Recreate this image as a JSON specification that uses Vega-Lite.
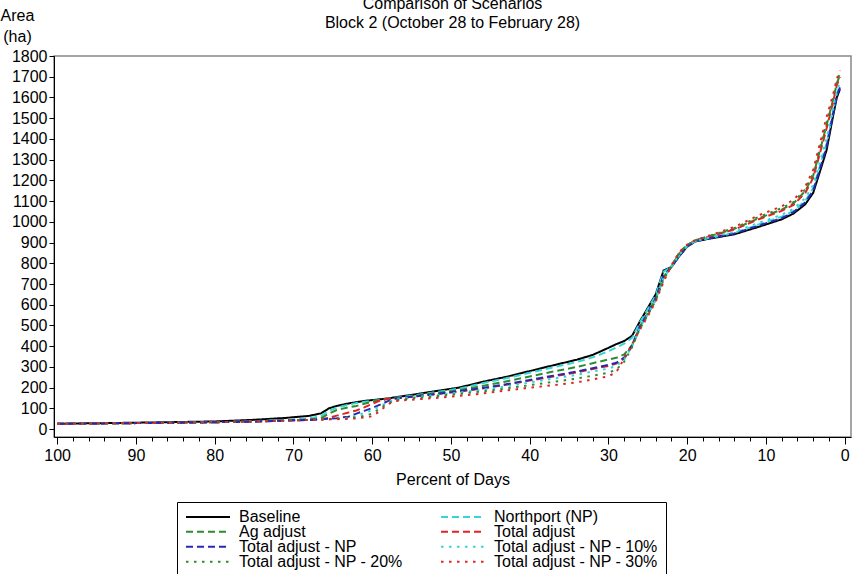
{
  "$schema": "https://vega.github.io/schema/vega-lite/v6.json",
  "width": 797,
  "height": 381,
  "autosize": "none",
  "padding": {"left": 54, "top": 56, "right": 3, "bottom": 137},
  "config": {
    "font": "Liberation Sans",
    "view": {"stroke": "#888888", "strokeWidth": 1.5},
    "axis": {"labelFontSize": 16, "titleFontSize": 16, "labelColor": "#000", "titleColor": "#000", "domainColor": "#000", "tickColor": "#000", "grid": false, "titleFontWeight": "normal"}
  },
  "title": {
    "text": ["Comparison of Scenarios", "Block 2 (October 28 to February 28)"],
    "fontSize": 16, "fontWeight": "normal", "lineHeight": 19, "anchor": "middle", "offset": 0, "dy": 24, "color": "#000"
  },
  "data": {"values": [
    {"s":"Baseline","x":100,"y":26},{"s":"Baseline","x":90,"y":31},{"s":"Baseline","x":80,"y":37},{"s":"Baseline","x":75,"y":45},{"s":"Baseline","x":71,"y":54},{"s":"Baseline","x":68,"y":64},{"s":"Baseline","x":66.5,"y":76},{"s":"Baseline","x":65.5,"y":100},{"s":"Baseline","x":64.5,"y":112},{"s":"Baseline","x":63,"y":124},{"s":"Baseline","x":62,"y":130},{"s":"Baseline","x":61,"y":136},{"s":"Baseline","x":60,"y":140},{"s":"Baseline","x":59,"y":144},{"s":"Baseline","x":58,"y":148},{"s":"Baseline","x":57,"y":154},{"s":"Baseline","x":55,"y":165},{"s":"Baseline","x":52,"y":183},{"s":"Baseline","x":49,"y":200},{"s":"Baseline","x":46,"y":228},{"s":"Baseline","x":43,"y":252},{"s":"Baseline","x":40,"y":280},{"s":"Baseline","x":37,"y":308},{"s":"Baseline","x":34,"y":335},{"s":"Baseline","x":32,"y":358},{"s":"Baseline","x":30,"y":392},{"s":"Baseline","x":29,"y":410},{"s":"Baseline","x":28,"y":425},{"s":"Baseline","x":27,"y":450},{"s":"Baseline","x":26,"y":520},{"s":"Baseline","x":25,"y":585},{"s":"Baseline","x":24,"y":650},{"s":"Baseline","x":23,"y":765},{"s":"Baseline","x":22,"y":782},{"s":"Baseline","x":21,"y":835},{"s":"Baseline","x":20,"y":880},{"s":"Baseline","x":19,"y":905},{"s":"Baseline","x":17,"y":920},{"s":"Baseline","x":14,"y":940},{"s":"Baseline","x":11,"y":975},{"s":"Baseline","x":8,"y":1012},{"s":"Baseline","x":6.5,"y":1040},{"s":"Baseline","x":5,"y":1085},{"s":"Baseline","x":4,"y":1140},{"s":"Baseline","x":3,"y":1260},{"s":"Baseline","x":2.3,"y":1346},{"s":"Baseline","x":1.5,"y":1506},{"s":"Baseline","x":1,"y":1600},{"s":"Baseline","x":0.6,"y":1640},
    {"s":"Northport (NP)","x":100,"y":26},{"s":"Northport (NP)","x":90,"y":29},{"s":"Northport (NP)","x":80,"y":33},{"s":"Northport (NP)","x":75,"y":38},{"s":"Northport (NP)","x":71,"y":45},{"s":"Northport (NP)","x":68,"y":52},{"s":"Northport (NP)","x":66.5,"y":62},{"s":"Northport (NP)","x":65.5,"y":88},{"s":"Northport (NP)","x":64.5,"y":104},{"s":"Northport (NP)","x":63,"y":118},{"s":"Northport (NP)","x":62,"y":126},{"s":"Northport (NP)","x":61,"y":132},{"s":"Northport (NP)","x":60,"y":137},{"s":"Northport (NP)","x":59,"y":141},{"s":"Northport (NP)","x":58,"y":146},{"s":"Northport (NP)","x":57,"y":151},{"s":"Northport (NP)","x":55,"y":161},{"s":"Northport (NP)","x":52,"y":178},{"s":"Northport (NP)","x":49,"y":195},{"s":"Northport (NP)","x":46,"y":221},{"s":"Northport (NP)","x":43,"y":245},{"s":"Northport (NP)","x":40,"y":272},{"s":"Northport (NP)","x":37,"y":298},{"s":"Northport (NP)","x":34,"y":324},{"s":"Northport (NP)","x":32,"y":346},{"s":"Northport (NP)","x":30,"y":376},{"s":"Northport (NP)","x":29,"y":394},{"s":"Northport (NP)","x":28,"y":412},{"s":"Northport (NP)","x":27,"y":440},{"s":"Northport (NP)","x":26,"y":515},{"s":"Northport (NP)","x":25,"y":580},{"s":"Northport (NP)","x":24,"y":645},{"s":"Northport (NP)","x":23,"y":760},{"s":"Northport (NP)","x":22,"y":782},{"s":"Northport (NP)","x":21,"y":838},{"s":"Northport (NP)","x":20,"y":882},{"s":"Northport (NP)","x":19,"y":906},{"s":"Northport (NP)","x":17,"y":923},{"s":"Northport (NP)","x":14,"y":947},{"s":"Northport (NP)","x":11,"y":986},{"s":"Northport (NP)","x":8,"y":1025},{"s":"Northport (NP)","x":6.5,"y":1053},{"s":"Northport (NP)","x":5,"y":1102},{"s":"Northport (NP)","x":4,"y":1162},{"s":"Northport (NP)","x":3,"y":1288},{"s":"Northport (NP)","x":2.3,"y":1378},{"s":"Northport (NP)","x":1.5,"y":1527},{"s":"Northport (NP)","x":1,"y":1618},{"s":"Northport (NP)","x":0.6,"y":1658},
    {"s":"Ag adjust","x":100,"y":26},{"s":"Ag adjust","x":90,"y":29},{"s":"Ag adjust","x":80,"y":33},{"s":"Ag adjust","x":75,"y":37},{"s":"Ag adjust","x":71,"y":42},{"s":"Ag adjust","x":68,"y":46},{"s":"Ag adjust","x":66.5,"y":52},{"s":"Ag adjust","x":65.5,"y":75},{"s":"Ag adjust","x":64.5,"y":92},{"s":"Ag adjust","x":63,"y":105},{"s":"Ag adjust","x":62,"y":112},{"s":"Ag adjust","x":61,"y":122},{"s":"Ag adjust","x":60,"y":132},{"s":"Ag adjust","x":59,"y":140},{"s":"Ag adjust","x":58,"y":146},{"s":"Ag adjust","x":57,"y":150},{"s":"Ag adjust","x":55,"y":158},{"s":"Ag adjust","x":52,"y":173},{"s":"Ag adjust","x":49,"y":188},{"s":"Ag adjust","x":46,"y":208},{"s":"Ag adjust","x":43,"y":230},{"s":"Ag adjust","x":40,"y":254},{"s":"Ag adjust","x":37,"y":278},{"s":"Ag adjust","x":34,"y":300},{"s":"Ag adjust","x":32,"y":318},{"s":"Ag adjust","x":30,"y":336},{"s":"Ag adjust","x":29,"y":344},{"s":"Ag adjust","x":28,"y":360},{"s":"Ag adjust","x":27,"y":405},{"s":"Ag adjust","x":26,"y":495},{"s":"Ag adjust","x":25,"y":560},{"s":"Ag adjust","x":24,"y":630},{"s":"Ag adjust","x":23,"y":735},{"s":"Ag adjust","x":22,"y":785},{"s":"Ag adjust","x":21,"y":850},{"s":"Ag adjust","x":20,"y":888},{"s":"Ag adjust","x":19,"y":910},{"s":"Ag adjust","x":17,"y":932},{"s":"Ag adjust","x":14,"y":966},{"s":"Ag adjust","x":11,"y":1016},{"s":"Ag adjust","x":8,"y":1059},{"s":"Ag adjust","x":6.5,"y":1089},{"s":"Ag adjust","x":5,"y":1149},{"s":"Ag adjust","x":4,"y":1223},{"s":"Ag adjust","x":3,"y":1365},{"s":"Ag adjust","x":2.3,"y":1466},{"s":"Ag adjust","x":1.5,"y":1584},{"s":"Ag adjust","x":1,"y":1668},{"s":"Ag adjust","x":0.6,"y":1708},
    {"s":"Total adjust","x":100,"y":26},{"s":"Total adjust","x":90,"y":29},{"s":"Total adjust","x":80,"y":33},{"s":"Total adjust","x":75,"y":37},{"s":"Total adjust","x":71,"y":41},{"s":"Total adjust","x":68,"y":45},{"s":"Total adjust","x":66.5,"y":48},{"s":"Total adjust","x":65.5,"y":55},{"s":"Total adjust","x":64.5,"y":65},{"s":"Total adjust","x":63,"y":80},{"s":"Total adjust","x":62,"y":90},{"s":"Total adjust","x":61,"y":105},{"s":"Total adjust","x":60,"y":122},{"s":"Total adjust","x":59,"y":138},{"s":"Total adjust","x":58,"y":146},{"s":"Total adjust","x":57,"y":148},{"s":"Total adjust","x":55,"y":156},{"s":"Total adjust","x":52,"y":168},{"s":"Total adjust","x":49,"y":181},{"s":"Total adjust","x":46,"y":196},{"s":"Total adjust","x":43,"y":214},{"s":"Total adjust","x":40,"y":234},{"s":"Total adjust","x":37,"y":254},{"s":"Total adjust","x":34,"y":274},{"s":"Total adjust","x":32,"y":290},{"s":"Total adjust","x":30,"y":305},{"s":"Total adjust","x":29,"y":316},{"s":"Total adjust","x":28,"y":340},{"s":"Total adjust","x":27,"y":400},{"s":"Total adjust","x":26,"y":490},{"s":"Total adjust","x":25,"y":555},{"s":"Total adjust","x":24,"y":625},{"s":"Total adjust","x":23,"y":730},{"s":"Total adjust","x":22,"y":785},{"s":"Total adjust","x":21,"y":848},{"s":"Total adjust","x":20,"y":886},{"s":"Total adjust","x":19,"y":910},{"s":"Total adjust","x":17,"y":930},{"s":"Total adjust","x":14,"y":963},{"s":"Total adjust","x":11,"y":1011},{"s":"Total adjust","x":8,"y":1053},{"s":"Total adjust","x":6.5,"y":1082},{"s":"Total adjust","x":5,"y":1140},{"s":"Total adjust","x":4,"y":1212},{"s":"Total adjust","x":3,"y":1351},{"s":"Total adjust","x":2.3,"y":1450},{"s":"Total adjust","x":1.5,"y":1574},{"s":"Total adjust","x":1,"y":1659},{"s":"Total adjust","x":0.6,"y":1699},
    {"s":"Total adjust - NP","x":100,"y":26},{"s":"Total adjust - NP","x":90,"y":29},{"s":"Total adjust - NP","x":80,"y":33},{"s":"Total adjust - NP","x":75,"y":37},{"s":"Total adjust - NP","x":71,"y":41},{"s":"Total adjust - NP","x":68,"y":44},{"s":"Total adjust - NP","x":66.5,"y":47},{"s":"Total adjust - NP","x":65.5,"y":50},{"s":"Total adjust - NP","x":64.5,"y":53},{"s":"Total adjust - NP","x":63,"y":60},{"s":"Total adjust - NP","x":62,"y":75},{"s":"Total adjust - NP","x":61,"y":88},{"s":"Total adjust - NP","x":60,"y":102},{"s":"Total adjust - NP","x":59,"y":118},{"s":"Total adjust - NP","x":58,"y":135},{"s":"Total adjust - NP","x":57,"y":148},{"s":"Total adjust - NP","x":55,"y":156},{"s":"Total adjust - NP","x":52,"y":169},{"s":"Total adjust - NP","x":49,"y":183},{"s":"Total adjust - NP","x":46,"y":198},{"s":"Total adjust - NP","x":43,"y":216},{"s":"Total adjust - NP","x":40,"y":237},{"s":"Total adjust - NP","x":37,"y":258},{"s":"Total adjust - NP","x":34,"y":278},{"s":"Total adjust - NP","x":32,"y":294},{"s":"Total adjust - NP","x":30,"y":310},{"s":"Total adjust - NP","x":29,"y":320},{"s":"Total adjust - NP","x":28,"y":345},{"s":"Total adjust - NP","x":27,"y":405},{"s":"Total adjust - NP","x":26,"y":495},{"s":"Total adjust - NP","x":25,"y":560},{"s":"Total adjust - NP","x":24,"y":630},{"s":"Total adjust - NP","x":23,"y":740},{"s":"Total adjust - NP","x":22,"y":783},{"s":"Total adjust - NP","x":21,"y":836},{"s":"Total adjust - NP","x":20,"y":881},{"s":"Total adjust - NP","x":19,"y":906},{"s":"Total adjust - NP","x":17,"y":922},{"s":"Total adjust - NP","x":14,"y":944},{"s":"Total adjust - NP","x":11,"y":981},{"s":"Total adjust - NP","x":8,"y":1018},{"s":"Total adjust - NP","x":6.5,"y":1047},{"s":"Total adjust - NP","x":5,"y":1094},{"s":"Total adjust - NP","x":4,"y":1151},{"s":"Total adjust - NP","x":3,"y":1274},{"s":"Total adjust - NP","x":2.3,"y":1362},{"s":"Total adjust - NP","x":1.5,"y":1516},{"s":"Total adjust - NP","x":1,"y":1609},{"s":"Total adjust - NP","x":0.6,"y":1649},
    {"s":"Total adjust - NP - 10%","x":100,"y":26},{"s":"Total adjust - NP - 10%","x":90,"y":29},{"s":"Total adjust - NP - 10%","x":80,"y":33},{"s":"Total adjust - NP - 10%","x":75,"y":37},{"s":"Total adjust - NP - 10%","x":71,"y":41},{"s":"Total adjust - NP - 10%","x":68,"y":44},{"s":"Total adjust - NP - 10%","x":66.5,"y":47},{"s":"Total adjust - NP - 10%","x":65.5,"y":49},{"s":"Total adjust - NP - 10%","x":64.5,"y":51},{"s":"Total adjust - NP - 10%","x":63,"y":55},{"s":"Total adjust - NP - 10%","x":62,"y":65},{"s":"Total adjust - NP - 10%","x":61,"y":78},{"s":"Total adjust - NP - 10%","x":60,"y":92},{"s":"Total adjust - NP - 10%","x":59,"y":110},{"s":"Total adjust - NP - 10%","x":58,"y":130},{"s":"Total adjust - NP - 10%","x":57,"y":146},{"s":"Total adjust - NP - 10%","x":55,"y":153},{"s":"Total adjust - NP - 10%","x":52,"y":164},{"s":"Total adjust - NP - 10%","x":49,"y":176},{"s":"Total adjust - NP - 10%","x":46,"y":190},{"s":"Total adjust - NP - 10%","x":43,"y":206},{"s":"Total adjust - NP - 10%","x":40,"y":225},{"s":"Total adjust - NP - 10%","x":37,"y":244},{"s":"Total adjust - NP - 10%","x":34,"y":262},{"s":"Total adjust - NP - 10%","x":32,"y":278},{"s":"Total adjust - NP - 10%","x":30,"y":292},{"s":"Total adjust - NP - 10%","x":29,"y":305},{"s":"Total adjust - NP - 10%","x":28,"y":335},{"s":"Total adjust - NP - 10%","x":27,"y":400},{"s":"Total adjust - NP - 10%","x":26,"y":490},{"s":"Total adjust - NP - 10%","x":25,"y":555},{"s":"Total adjust - NP - 10%","x":24,"y":625},{"s":"Total adjust - NP - 10%","x":23,"y":730},{"s":"Total adjust - NP - 10%","x":22,"y":785},{"s":"Total adjust - NP - 10%","x":21,"y":842},{"s":"Total adjust - NP - 10%","x":20,"y":884},{"s":"Total adjust - NP - 10%","x":19,"y":907},{"s":"Total adjust - NP - 10%","x":17,"y":926},{"s":"Total adjust - NP - 10%","x":14,"y":952},{"s":"Total adjust - NP - 10%","x":11,"y":994},{"s":"Total adjust - NP - 10%","x":8,"y":1034},{"s":"Total adjust - NP - 10%","x":6.5,"y":1063},{"s":"Total adjust - NP - 10%","x":5,"y":1115},{"s":"Total adjust - NP - 10%","x":4,"y":1179},{"s":"Total adjust - NP - 10%","x":3,"y":1309},{"s":"Total adjust - NP - 10%","x":2.3,"y":1402},{"s":"Total adjust - NP - 10%","x":1.5,"y":1542},{"s":"Total adjust - NP - 10%","x":1,"y":1632},{"s":"Total adjust - NP - 10%","x":0.6,"y":1672},
    {"s":"Total adjust - NP - 20%","x":100,"y":26},{"s":"Total adjust - NP - 20%","x":90,"y":29},{"s":"Total adjust - NP - 20%","x":80,"y":33},{"s":"Total adjust - NP - 20%","x":75,"y":37},{"s":"Total adjust - NP - 20%","x":71,"y":41},{"s":"Total adjust - NP - 20%","x":68,"y":44},{"s":"Total adjust - NP - 20%","x":66.5,"y":46},{"s":"Total adjust - NP - 20%","x":65.5,"y":48},{"s":"Total adjust - NP - 20%","x":64.5,"y":50},{"s":"Total adjust - NP - 20%","x":63,"y":52},{"s":"Total adjust - NP - 20%","x":62,"y":56},{"s":"Total adjust - NP - 20%","x":61,"y":64},{"s":"Total adjust - NP - 20%","x":60,"y":75},{"s":"Total adjust - NP - 20%","x":59,"y":100},{"s":"Total adjust - NP - 20%","x":58,"y":125},{"s":"Total adjust - NP - 20%","x":57,"y":140},{"s":"Total adjust - NP - 20%","x":55,"y":148},{"s":"Total adjust - NP - 20%","x":52,"y":158},{"s":"Total adjust - NP - 20%","x":49,"y":170},{"s":"Total adjust - NP - 20%","x":46,"y":182},{"s":"Total adjust - NP - 20%","x":43,"y":196},{"s":"Total adjust - NP - 20%","x":40,"y":212},{"s":"Total adjust - NP - 20%","x":37,"y":228},{"s":"Total adjust - NP - 20%","x":34,"y":244},{"s":"Total adjust - NP - 20%","x":32,"y":258},{"s":"Total adjust - NP - 20%","x":30,"y":272},{"s":"Total adjust - NP - 20%","x":29,"y":287},{"s":"Total adjust - NP - 20%","x":28,"y":325},{"s":"Total adjust - NP - 20%","x":27,"y":395},{"s":"Total adjust - NP - 20%","x":26,"y":485},{"s":"Total adjust - NP - 20%","x":25,"y":550},{"s":"Total adjust - NP - 20%","x":24,"y":620},{"s":"Total adjust - NP - 20%","x":23,"y":720},{"s":"Total adjust - NP - 20%","x":22,"y":788},{"s":"Total adjust - NP - 20%","x":21,"y":852},{"s":"Total adjust - NP - 20%","x":20,"y":888},{"s":"Total adjust - NP - 20%","x":19,"y":911},{"s":"Total adjust - NP - 20%","x":17,"y":934},{"s":"Total adjust - NP - 20%","x":14,"y":970},{"s":"Total adjust - NP - 20%","x":11,"y":1022},{"s":"Total adjust - NP - 20%","x":8,"y":1066},{"s":"Total adjust - NP - 20%","x":6.5,"y":1095},{"s":"Total adjust - NP - 20%","x":5,"y":1157},{"s":"Total adjust - NP - 20%","x":4,"y":1234},{"s":"Total adjust - NP - 20%","x":3,"y":1379},{"s":"Total adjust - NP - 20%","x":2.3,"y":1482},{"s":"Total adjust - NP - 20%","x":1.5,"y":1594},{"s":"Total adjust - NP - 20%","x":1,"y":1677},{"s":"Total adjust - NP - 20%","x":0.6,"y":1717},
    {"s":"Total adjust - NP - 30%","x":100,"y":26},{"s":"Total adjust - NP - 30%","x":90,"y":29},{"s":"Total adjust - NP - 30%","x":80,"y":33},{"s":"Total adjust - NP - 30%","x":75,"y":37},{"s":"Total adjust - NP - 30%","x":71,"y":41},{"s":"Total adjust - NP - 30%","x":68,"y":44},{"s":"Total adjust - NP - 30%","x":66.5,"y":46},{"s":"Total adjust - NP - 30%","x":65.5,"y":47},{"s":"Total adjust - NP - 30%","x":64.5,"y":48},{"s":"Total adjust - NP - 30%","x":63,"y":50},{"s":"Total adjust - NP - 30%","x":62,"y":52},{"s":"Total adjust - NP - 30%","x":61,"y":56},{"s":"Total adjust - NP - 30%","x":60,"y":62},{"s":"Total adjust - NP - 30%","x":59,"y":88},{"s":"Total adjust - NP - 30%","x":58,"y":120},{"s":"Total adjust - NP - 30%","x":57,"y":136},{"s":"Total adjust - NP - 30%","x":55,"y":142},{"s":"Total adjust - NP - 30%","x":52,"y":150},{"s":"Total adjust - NP - 30%","x":49,"y":160},{"s":"Total adjust - NP - 30%","x":46,"y":172},{"s":"Total adjust - NP - 30%","x":43,"y":186},{"s":"Total adjust - NP - 30%","x":40,"y":200},{"s":"Total adjust - NP - 30%","x":37,"y":212},{"s":"Total adjust - NP - 30%","x":34,"y":226},{"s":"Total adjust - NP - 30%","x":32,"y":240},{"s":"Total adjust - NP - 30%","x":30,"y":255},{"s":"Total adjust - NP - 30%","x":29,"y":275},{"s":"Total adjust - NP - 30%","x":28,"y":340},{"s":"Total adjust - NP - 30%","x":27,"y":410},{"s":"Total adjust - NP - 30%","x":26,"y":480},{"s":"Total adjust - NP - 30%","x":25,"y":545},{"s":"Total adjust - NP - 30%","x":24,"y":615},{"s":"Total adjust - NP - 30%","x":23,"y":710},{"s":"Total adjust - NP - 30%","x":22,"y":790},{"s":"Total adjust - NP - 30%","x":21,"y":855},{"s":"Total adjust - NP - 30%","x":20,"y":890},{"s":"Total adjust - NP - 30%","x":19,"y":912},{"s":"Total adjust - NP - 30%","x":17,"y":936},{"s":"Total adjust - NP - 30%","x":14,"y":975},{"s":"Total adjust - NP - 30%","x":11,"y":1030},{"s":"Total adjust - NP - 30%","x":8,"y":1075},{"s":"Total adjust - NP - 30%","x":6.5,"y":1105},{"s":"Total adjust - NP - 30%","x":5,"y":1170},{"s":"Total adjust - NP - 30%","x":4,"y":1250},{"s":"Total adjust - NP - 30%","x":3,"y":1400},{"s":"Total adjust - NP - 30%","x":2.3,"y":1506},{"s":"Total adjust - NP - 30%","x":1.5,"y":1610},{"s":"Total adjust - NP - 30%","x":1,"y":1690},{"s":"Total adjust - NP - 30%","x":0.6,"y":1730}
  ]},
  "mark": {"type": "line", "strokeWidth": 2},
  "encoding": {
    "x": {
      "field": "x", "type": "quantitative",
      "scale": {"domain": [100.4, -0.8], "nice": false, "zero": false},
      "axis": {
        "title": "Percent of Days", "titlePadding": 8,
        "values": [0,2,4,6,8,10,12,14,16,18,20,22,24,26,28,30,32,34,36,38,40,42,44,46,48,50,52,54,56,58,60,62,64,66,68,70,72,74,76,78,80,82,84,86,88,90,92,94,96,98,100],
        "labelExpr": "datum.value % 10 === 0 ? datum.label : ''",
        "tickSize": {"condition": {"test": "datum.value % 10 === 0", "value": 7}, "value": 4},
        "labelPadding": 3, "labelFlush": false, "labelOverlap": false
      }
    },
    "y": {
      "field": "y", "type": "quantitative",
      "scale": {"domain": [-38, 1800], "nice": false, "zero": false},
      "axis": {
        "title": ["Area", "(ha)"], "titleAngle": 0, "titleAlign": "center", "titleBaseline": "alphabetic",
        "titleX": -37, "titleY": -36, "titleLineHeight": 21,
        "values": [0,100,200,300,400,500,600,700,800,900,1000,1100,1200,1300,1400,1500,1600,1700,1800],
        "format": "d",
        "tickSize": 5, "labelPadding": 2, "labelOverlap": false
      }
    },
    "color": {
      "field": "s", "type": "nominal",
      "scale": {
        "domain": ["Baseline", "Northport (NP)", "Ag adjust", "Total adjust", "Total adjust - NP", "Total adjust - NP - 10%", "Total adjust - NP - 20%", "Total adjust - NP - 30%"],
        "range": ["#000000", "#33d6d6", "#2e8b2e", "#e02424", "#2828b4", "#33d6d6", "#2e8b2e", "#e02424"]
      },
      "legend": {
        "title": null, "orient": "none", "legendX": 123, "legendY": 446, "columns": 2, "direction": "horizontal",
        "symbolType": "stroke", "symbolSize": 1936, "symbolStrokeWidth": 2, "clipHeight": 13.5,
        "labelFontSize": 16, "labelColor": "#000", "labelOffset": 8, "labelLimit": 300,
        "columnPadding": 37, "rowPadding": -4, "padding": 8, "strokeColor": "#000", "fillColor": "#fff"
      }
    },
    "strokeDash": {
      "field": "s", "type": "nominal",
      "scale": {
        "domain": ["Baseline", "Northport (NP)", "Ag adjust", "Total adjust", "Total adjust - NP", "Total adjust - NP - 10%", "Total adjust - NP - 20%", "Total adjust - NP - 30%"],
        "range": [[1, 0], [7, 4], [7, 4], [7, 4], [7, 4], [2.5, 5.5], [2.5, 5.5], [2.5, 5.5]]
      },
      "legend": {
        "title": null, "orient": "none", "legendX": 123, "legendY": 446, "columns": 2, "direction": "horizontal",
        "symbolType": "stroke", "symbolSize": 1936, "symbolStrokeWidth": 2, "clipHeight": 13.5,
        "labelFontSize": 16, "labelColor": "#000", "labelOffset": 8, "labelLimit": 300,
        "columnPadding": 37, "rowPadding": -4, "padding": 8, "strokeColor": "#000", "fillColor": "#fff"
      }
    },
    "strokeWidth": {"condition": {"test": "datum.s === 'Baseline'", "value": 2.6}, "value": 2}
  }
}
